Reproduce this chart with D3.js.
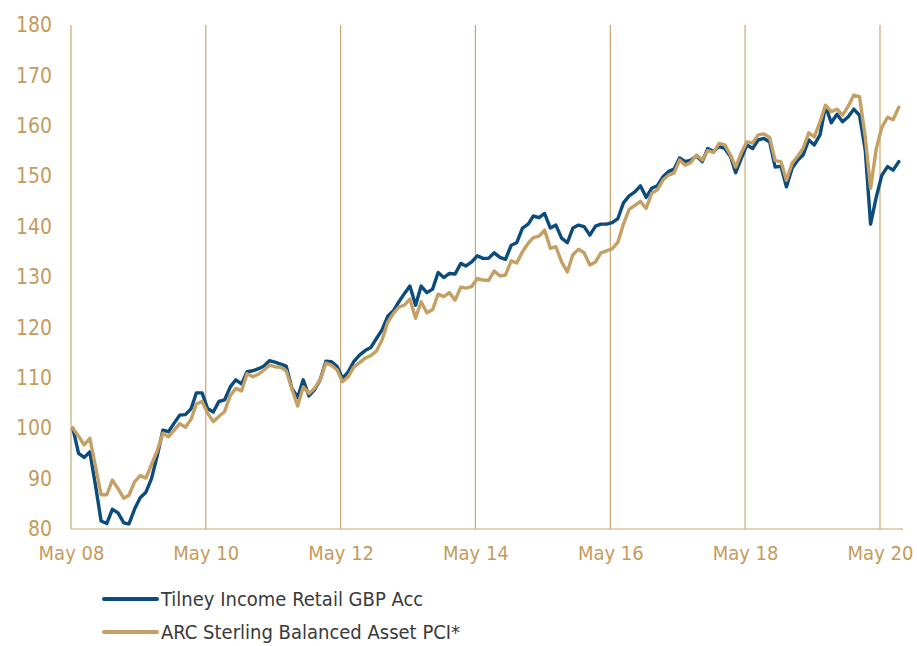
<!DOCTYPE html>
<html><head><meta charset="utf-8">
<script src="https://cdn.jsdelivr.net/npm/d3@7"></script>
<style>body{margin:0;background:#fff} svg{display:block}</style>
</head><body><svg id="c" width="917" height="646"></svg>
<script>
const seriesNames = ["Tilney Income Retail GBP Acc", "ARC Sterling Balanced Asset PCI*"];
const tilney = [100,95.0,94.2,95.3,88.6,81.6,81.1,83.9,83.2,81.2,81.0,84.0,86.2,87.3,90.0,94.5,99.6,99.3,101.0,102.6,
102.7,103.9,107.0,107.0,103.9,103.2,105.3,105.6,108.2,109.6,108.8,111.2,111.4,111.8,112.3,113.4,113.1,112.7,112.3,107.9,
106.1,109.6,106.4,107.6,109.6,113.3,113.2,112.3,109.9,111.2,113.2,114.5,115.4,116.0,117.8,119.5,122.2,123.3,125.0,126.7,
128.2,124.4,128.2,126.9,127.6,130.9,129.9,130.7,130.6,132.7,132.2,133.0,134.2,133.7,133.7,134.8,133.9,133.5,136.3,136.8,
139.7,140.5,142.1,141.8,142.6,139.7,140.3,137.7,136.8,139.7,140.3,140.0,138.3,140.1,140.5,140.5,140.8,141.6,144.7,146.1,
146.9,148.1,145.8,147.6,148.1,149.9,150.9,151.4,153.6,152.9,153.2,154.0,152.9,155.5,154.9,155.9,155.5,153.9,150.7,153.6,
156.2,155.5,157.2,157.5,156.8,151.8,152.0,147.9,151.6,153.2,154.2,157.2,156.2,158.2,163.9,160.6,162.3,160.8,161.8,163.3,
162.1,155.2,140.5,145.9,150.2,151.9,151.2,152.9];
const arc = [100,98.4,96.7,98.0,92.4,86.8,86.8,89.7,88.0,86.1,86.7,89.4,90.6,90.1,92.8,95.5,99.0,98.3,99.6,100.9,
100.2,101.8,104.8,105.3,103.0,101.3,102.3,103.3,106.5,107.9,107.4,110.8,110.2,110.7,111.5,112.5,112.2,112.1,111.4,107.8,
104.4,108.2,106.9,107.9,109.6,112.9,112.5,111.6,109.2,110.2,112.1,113.0,113.9,114.4,115.3,117.5,121.0,122.8,124.0,124.4,
125.6,121.8,125.1,122.9,123.5,126.6,126.1,126.9,125.4,128.0,127.8,128.1,129.7,129.4,129.3,131.2,130.2,130.4,133.2,132.8,
135.0,136.7,137.8,138.1,139.3,135.7,136.0,133.0,131.0,134.4,135.5,134.8,132.4,133.0,134.8,135.2,135.6,136.9,140.5,143.4,
144.2,145.0,143.6,146.6,147.3,149.3,150.2,150.6,153.2,152.2,152.7,154.2,153.2,155.1,154.7,156.5,156.2,154.2,151.8,154.7,
156.8,156.6,158.2,158.4,157.7,153.1,152.9,149.2,152.6,154.0,155.5,158.6,157.8,160.8,164.1,162.8,163.3,162.1,163.9,166.1,
165.8,157.8,147.6,155.5,159.7,161.7,161.2,163.7];
const yTicks = [80, 90, 100, 110, 120, 130, 140, 150, 160, 170, 180];
const xTickLabels = ["May 08", "May 10", "May 12", "May 14", "May 16", "May 18", "May 20"];
const xTickYears = [2008, 2010, 2012, 2014, 2016, 2018, 2020];

const navy = "#0b4c7c", gold = "#c5a064", grid = "#c9a76f", tickCol = "#c49b5c", legendText = "#3a3a3a";
const font = "'Liberation Sans Narrow','DejaVu Sans Condensed','Liberation Sans',sans-serif";

const svg = d3.select("#c");
const firstPoint = new Date(2008, 4, 11);
const dates = tilney.map((_, i) => d3.timeMonth.offset(firstPoint, i));
const tickDates = xTickYears.map(y => new Date(y, 4, 1));

const x = d3.scaleTime().domain([tickDates[0], tickDates[tickDates.length - 1]]).range([71, 880]);
const y = d3.scaleLinear().domain([80, 180]).range([529, 25]);

// vertical gridlines
svg.append("g").selectAll("line").data(tickDates).join("line")
  .attr("x1", d => x(d)).attr("x2", d => x(d))
  .attr("y1", y(180)).attr("y2", y(80))
  .attr("stroke", grid).attr("stroke-width", 1.2);
// bottom axis line
svg.append("line").attr("x1", x(tickDates[0])).attr("x2", 903)
  .attr("y1", y(80)).attr("y2", y(80)).attr("stroke", grid).attr("stroke-width", 1.2);

// axes labels
const gx = svg.append("g").attr("transform", `translate(0,${y(80)})`)
  .call(d3.axisBottom(x).tickValues(tickDates).tickFormat((d, i) => xTickLabels[i]).tickSize(0).tickPadding(17));
gx.select(".domain").remove();
gx.selectAll("text").attr("fill", tickCol).style("font-family", font).style("font-size", "20px");

const gy = svg.append("g").attr("transform", `translate(52,0)`)
  .call(d3.axisLeft(y).tickValues(yTicks).tickSize(0).tickPadding(0));
gy.select(".domain").remove();
gy.selectAll("text").attr("fill", tickCol).style("font-family", font).style("font-size", "21px");

// lines
const line = d3.line().x((d, i) => x(dates[i])).y(d => y(d)).curve(d3.curveLinear);
[[tilney, navy], [arc, gold]].forEach(([data, col]) => {
  svg.append("path").datum(data).attr("d", line).attr("fill", "none")
    .attr("stroke", col).attr("stroke-width", 3.4).attr("stroke-linejoin", "round").attr("stroke-linecap", "round");
});

// legend
const legend = svg.append("g");
[[seriesNames[0], navy, 599], [seriesNames[1], gold, 632]].forEach(([name, col, ly]) => {
  legend.append("line").attr("x1", 104).attr("x2", 157).attr("y1", ly).attr("y2", ly)
    .attr("stroke", col).attr("stroke-width", 4).attr("stroke-linecap", "round");
  legend.append("text").attr("x", 161).attr("y", ly).attr("dy", "0.36em")
    .attr("fill", legendText).style("font-family", font).style("font-size", "20px").text(name);
});
</script></body></html>
